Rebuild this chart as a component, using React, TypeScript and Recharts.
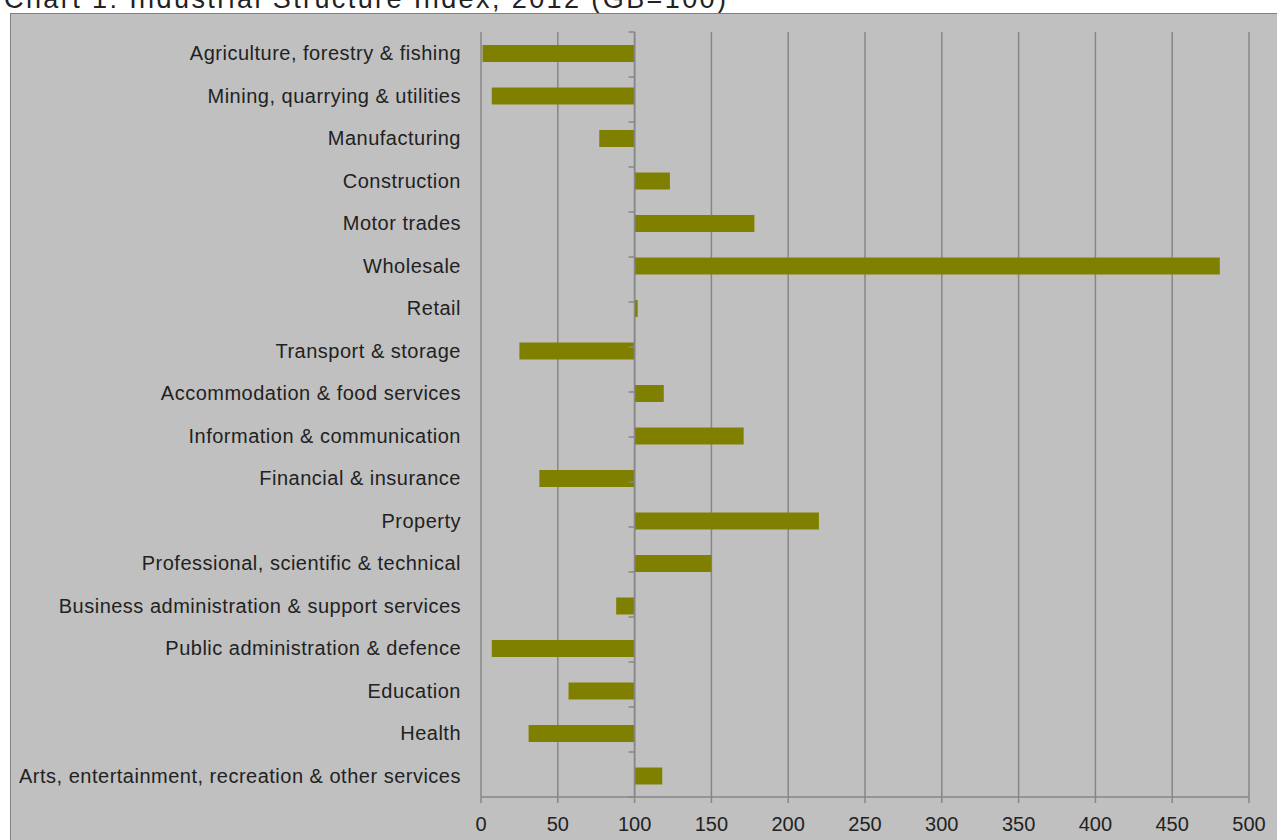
import React from "react";
import {
  BarChart,
  Bar,
  XAxis,
  YAxis,
  CartesianGrid,
  ReferenceLine,
} from "recharts";

const TITLE = "Chart 1: Industrial Structure Index, 2012 (GB=100)";

const categories = [
  "Agriculture, forestry & fishing",
  "Mining, quarrying & utilities",
  "Manufacturing",
  "Construction",
  "Motor trades",
  "Wholesale",
  "Retail",
  "Transport & storage",
  "Accommodation & food services",
  "Information & communication",
  "Financial & insurance",
  "Property",
  "Professional, scientific & technical",
  "Business administration & support services",
  "Public administration & defence",
  "Education",
  "Health",
  "Arts, entertainment, recreation & other services",
];

const indexValues = [1, 7, 77, 123, 178, 481, 102, 25, 119, 171, 38, 220, 150, 88, 7, 57, 31, 118];

const baseline = 100;

const xTicks = [0, 50, 100, 150, 200, 250, 300, 350, 400, 450, 500];

const boundaries = [0, 1, 2, 3, 4, 5, 6, 7, 8, 9, 10, 11, 12, 13, 14, 15, 16, 17];

const data = categories.map((name, i) => ({
  name,
  value: indexValues[i],
  range: [Math.min(baseline, indexValues[i]), Math.max(baseline, indexValues[i])],
}));

const FONT = "'Liberation Sans', Arial, sans-serif";
const GRID = "#878787";
const TEXT = "#222222";

export default function App() {
  return (
    <div
      style={{
        position: "absolute",
        left: 0,
        top: 0,
        width: 1277,
        height: 840,
        overflow: "hidden",
        background: "#ffffff",
        fontFamily: FONT,
      }}
    >
      <svg
        width={1277}
        height={30}
        style={{ position: "absolute", left: 0, top: 0 }}
      >
        <text
          x={4}
          y={8}
          fontSize={27}
          fill={TEXT}
          fontFamily={FONT}
          textLength={722}
          lengthAdjust="spacing"
        >
          {TITLE}
        </text>
      </svg>
      <div
        style={{
          position: "absolute",
          left: 10,
          top: 13,
          width: 1300,
          height: 900,
          border: "1px solid #808080",
          background: "#c0c0c0",
        }}
      />
      <div style={{ position: "absolute", left: 0, top: 0 }}>
        <BarChart
          width={1277}
          height={840}
          data={data}
          layout="vertical"
          margin={{ top: 32, right: 28, bottom: 13, left: 11 }}
          barCategoryGap={0}
        >
          <CartesianGrid horizontal={false} stroke={GRID} strokeWidth={1.5} />
          <XAxis
            type="number"
            domain={[0, 500]}
            ticks={xTicks}
            allowDataOverflow
            axisLine={{ stroke: GRID, strokeWidth: 1.5 }}
            tickLine={{ stroke: GRID, strokeWidth: 1.5 }}
            tickSize={6}
            tickMargin={14}
            tick={{ fill: TEXT, fontSize: 20, fontFamily: FONT }}
            height={30}
          />
          <YAxis
            type="category"
            dataKey="name"
            width={470}
            axisLine={false}
            tickLine={false}
            tickSize={6}
            tickMargin={14}
            interval={0}
            tick={{ fill: TEXT, fontSize: 20, fontFamily: FONT, letterSpacing: 0.5 }}
          />
          <YAxis yAxisId="n" type="number" domain={[0, 18]} hide />
          <Bar
            dataKey="range"
            fill="#808000"
            barSize={17}
            isAnimationActive={false}
          />
          <ReferenceLine x={baseline} stroke={GRID} strokeWidth={1.5} />
          {boundaries.map((b) => (
            <ReferenceLine
              key={b}
              yAxisId="n"
              segment={[
                { x: baseline - 3.9, y: b },
                { x: baseline, y: b },
              ]}
              stroke={GRID}
              strokeWidth={1.5}
            />
          ))}
        </BarChart>
      </div>
    </div>
  );
}
